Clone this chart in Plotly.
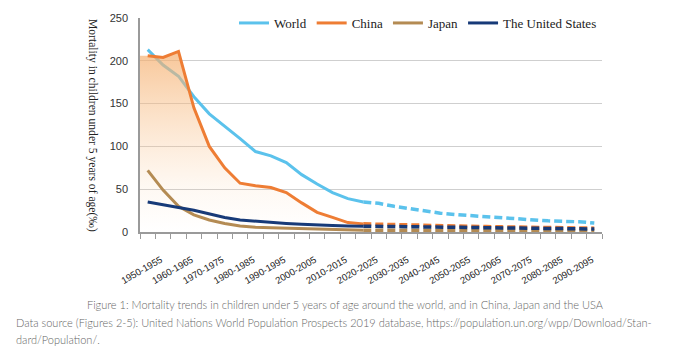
import plotly.graph_objects as go

categories = [f"{y}-{y+5}" for y in range(1950, 2100, 5)]
idx = list(range(len(categories)))

# historical (1950-1955 .. 2020-2025, solid) and projected (dashed) values
world_hist = [213, 195, 182, 158, 138, 124, 109, 94, 89, 81, 67, 56, 46, 39, 35]
china_hist = [206, 204, 211, 145, 100, 75, 57, 54, 52, 46, 34, 23, 17, 11, 9.5]
japan_hist = [72, 49, 30, 20, 14, 10, 7, 5.5, 5, 4.5, 3.5, 3, 2.5, 2.3, 2.1]
us_hist = [35, 31.5, 28.5, 25.5, 21, 17, 14, 12.5, 11, 10, 9, 8, 7.5, 7, 6.8]

world_proj = [35, 33.5, 30, 27, 24.5, 22, 20.3, 19, 17.5, 16, 14.8, 13.8, 13, 12.4, 12, 10.5]
china_proj = [9.5, 9, 8.5, 8, 7.6, 7.2, 6.9, 6.6, 6.3, 6, 5.7, 5.4, 5.1, 4.9, 4.7, 4.5]
japan_proj = [2.1, 2.0, 2.0, 1.9, 1.9, 1.8, 1.8, 1.7, 1.7, 1.7, 1.6, 1.6, 1.6, 1.5, 1.5, 1.5]
us_proj = [6.8, 6.6, 6.3, 6.0, 5.8, 5.5, 5.3, 5.1, 4.9, 4.7, 4.5, 4.3, 4.1, 3.9, 3.7, 3.5]

names = ["World", "China", "Japan", "The United States"]
colors = ["#5BC2EC", "#EE7D34", "#B48B53", "#173A78"]
hist = [world_hist, china_hist, japan_hist, us_hist]
proj = [world_proj, china_proj, japan_proj, us_proj]

n_hist = len(world_hist)
x_hist = idx[:n_hist]
x_proj = idx[n_hist - 1:]

fig = go.Figure()

for i, (name, col, h, p) in enumerate(zip(names, colors, hist, proj)):
    if name == "China":
        # gradient area under China's historical curve
        fig.add_trace(go.Scatter(
            x=[-0.5] + x_hist, y=[h[0]] + h, mode="lines", line=dict(width=0),
            fill="tozeroy",
            fillgradient=dict(type="vertical", start=0, stop=210,
                              colorscale=[[0, "rgba(250,205,160,0)"],
                                          [0.25, "rgba(250,200,150,0.12)"],
                                          [1, "rgba(245,175,110,0.7)"]]),
            showlegend=False, hoverinfo="skip"))
    fig.add_trace(go.Scatter(
        x=x_hist, y=h, mode="lines", name=name, legendgroup=name,
        line=dict(color=col, width=3)))
    fig.add_trace(go.Scatter(
        x=x_proj, y=p, mode="lines", name=name, legendgroup=name, showlegend=False,
        line=dict(color=col, width=3.5, dash="8px,4px")))

W, H = 690, 364
# the page body adds an 8px offset; plot area on screen is x 140..602, y 18..232
L, R, T, B = 132, 96, 10, 140
pw, ph = 462, 214

def px(xs):
    return (xs - 140) / pw

def py(ys):
    return (232 - ys) / ph

fig.update_layout(
    width=W, height=H,
    margin=dict(l=L, r=R, t=T, b=B, autoexpand=False),
    paper_bgcolor="white", plot_bgcolor="white",
    legend=dict(orientation="h", x=1.0, xanchor="right", y=py(23), yanchor="middle",
                font=dict(family="Liberation Serif", size=13, color="#222"),
                bgcolor="rgba(0,0,0,0)", itemwidth=30, tracegroupgap=0),
    xaxis=dict(range=[-0.5, len(categories) - 0.5],
               tickmode="array", tickvals=idx[::2], ticktext=categories[::2],
               tickangle=-30, ticks="", showgrid=False, zeroline=False,
               showline=True, linecolor="#9a9a9a", linewidth=1.5,
               ticklabelstandoff=17, ticklabelshift=13,
               tickfont=dict(family="Liberation Sans", size=9.5, color="#222"),
               minor=dict(ticks="outside", ticklen=5, tickcolor="#9a9a9a", tickwidth=1,
                          tickmode="linear", tick0=-0.5, dtick=1, showgrid=False)),
    yaxis=dict(range=[0, 250], tickmode="array", tickvals=[0, 50, 100, 150, 200, 250],
               showgrid=True, gridcolor="#cfcfcf", gridwidth=1, zeroline=False,
               showline=True, linecolor="#9a9a9a", linewidth=1.5, ticks="",
               ticklabelstandoff=8,
               tickfont=dict(family="Liberation Sans", size=11, color="#333")),
    showlegend=True,
)

fig.add_annotation(text="Mortality in children under 5 years of age(‰)", textangle=90,
                   xref="paper", yref="paper", x=px(93), y=py(125),
                   xanchor="center", yanchor="middle", showarrow=False,
                   font=dict(family="Liberation Serif", size=11.6, color="#222"))

cap_font = dict(family="Lato", size=11, color="#666666", weight=300)
fig.add_annotation(text="Figure 1: Mortality trends in children under 5 years of age around the world, and in China, Japan and the USA",
                   xref="paper", yref="paper", x=px(345), y=py(304), xanchor="center",
                   yanchor="middle", showarrow=False, font=cap_font)
fig.add_annotation(text="Data source (Figures 2-5): United Nations World Population Prospects 2019 database, https://population.un.org/wpp/Download/Stan-",
                   xref="paper", yref="paper", x=px(14), y=py(322), xanchor="left",
                   yanchor="middle", showarrow=False, font=cap_font)
fig.add_annotation(text="dard/Population/.",
                   xref="paper", yref="paper", x=px(14), y=py(339), xanchor="left",
                   yanchor="middle", showarrow=False, font=cap_font)

fig.write_html("out.html")
